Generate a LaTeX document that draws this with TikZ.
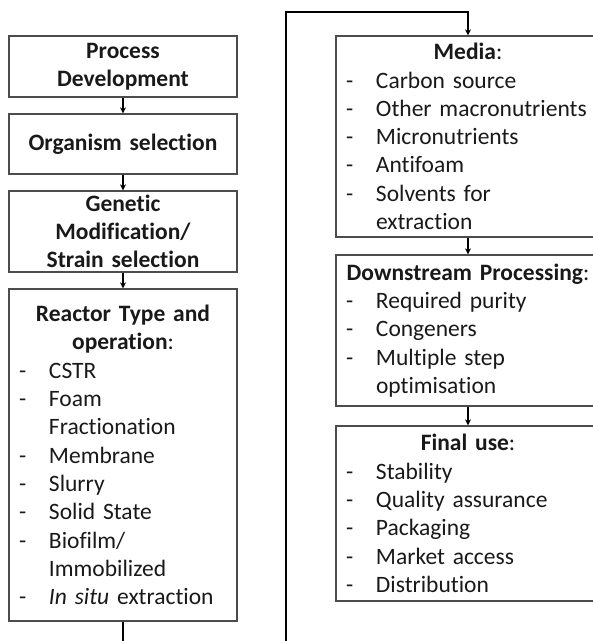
\documentclass[tikz,border=0pt]{standalone}
\usepackage{fontspec}
\setmainfont[Ligatures=NoCommon]{Carlito}
\usetikzlibrary{arrows.meta}

\newcommand{\itm}[1]{\makebox[32pt][l]{\hspace{2pt}-}#1}
\newcommand{\cont}[1]{\hspace*{32pt}#1}
\newcommand{\head}[1]{\makebox[\hsize]{#1}}

\begin{document}
\begin{tikzpicture}[x=1pt, y=-1pt,
        box/.style={draw=black!70, line width=1.3pt, rectangle, align=left, inner xsep=8pt, inner ysep=1pt,
            text=black!90, font=\fontsize{23.5}{28.3}\selectfont},
        leftbox/.style={box, text width=212pt, minimum width=228pt},
        rightbox/.style={box, text width=248pt, minimum width=264pt},
        flow/.style={line width=1.6pt, -{Stealth[length=6pt, width=6pt]}}]
    \useasboundingbox (0,0) rectangle (593,641);
    \clip (0,0) rectangle (593,641);

    \node[leftbox, align=center, minimum height=61pt] (proc) at (123,66.5) {\textbf{Process}\\\textbf{Development}};
    \node[leftbox, align=center, minimum height=60pt] (org) at (123,144) {\textbf{Organism selection}};
    \node[leftbox, align=center, minimum height=81pt] (gen) at (123,231.5) {\textbf{Genetic}\\\textbf{Modification/}\\\textbf{Strain selection}};
    \node[leftbox, minimum height=332pt] (react) at (123,455) {\head{\textbf{Reactor Type and}}\\
        \head{\textbf{operation}:}\\
        \itm{CSTR}\\
        \itm{Foam}\\
        \cont{Fractionation}\\
        \itm{Membrane}\\
        \itm{Slurry}\\
        \itm{Solid State}\\
        \itm{Biofilm/}\\
        \cont{Immobilized}\\
        \itm{\textit{In situ} extraction}};

    \node[rightbox, minimum height=201pt] (media) at (468,136.5) {\head{\textbf{Media}:}\\
        \itm{Carbon source}\\
        \itm{Other macronutrients}\\
        \itm{Micronutrients}\\
        \itm{Antifoam}\\
        \itm{Solvents for}\\
        \cont{extraction}};
    \node[rightbox, minimum height=151pt] (down) at (468,330.5) {\head{\textbf{Downstream Processing}:}\\
        \itm{Required purity}\\
        \itm{Congeners}\\
        \itm{Multiple step}\\
        \cont{optimisation}};
    \node[rightbox, minimum height=175pt] (final) at (468,513.5) {\head{\textbf{Final use}:}\\
        \itm{Stability}\\
        \itm{Quality assurance}\\
        \itm{Packaging}\\
        \itm{Market access}\\
        \itm{Distribution}};

    \coordinate (loopL) at (123,660);
    \coordinate (loopR) at (286,660);
    \coordinate (topR) at (286,12);

    \draw[flow] (proc.south) -- (org.north);
    \draw[flow] (org.south) -- (gen.north);
    \draw[flow] (gen.south) -- (react.north);
    \draw[flow] (react.south) -- (loopL) -- (loopR) -- (topR) -| (media.north);
    \draw[flow] (media.south) -- (down.north);
    \draw[flow] (down.south) -- (final.north);
\end{tikzpicture}
\end{document}
